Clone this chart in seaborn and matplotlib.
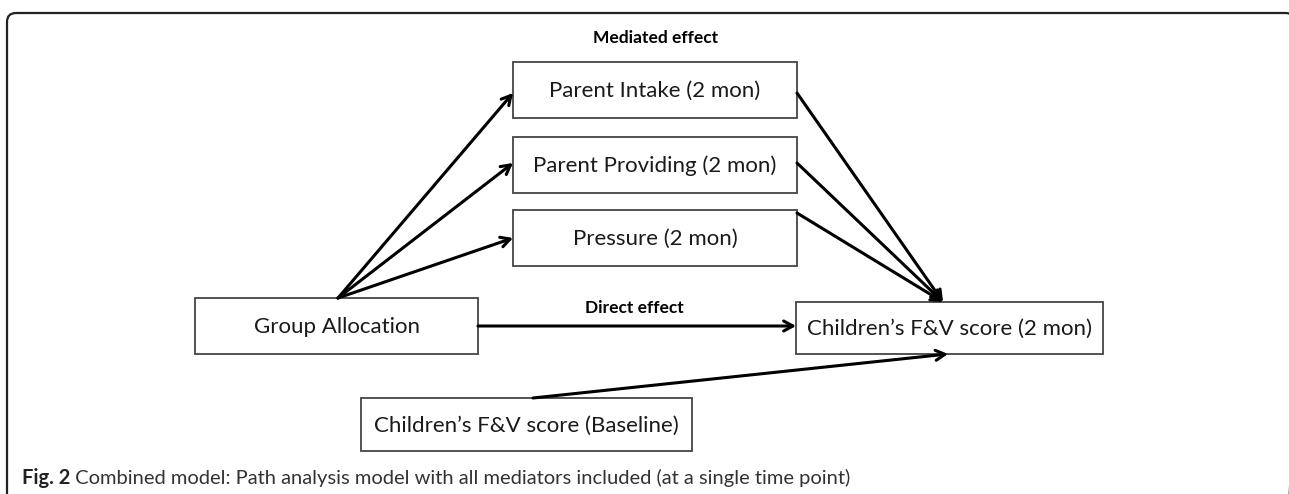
import matplotlib
matplotlib.use("Agg")
import matplotlib.pyplot as plt
from matplotlib.patches import Rectangle, FancyBboxPatch
import seaborn as sns

sns.set_theme(style="white")
plt.rcParams['font.family'] = ['Lato', 'DejaVu Sans']

# nodes of the path model
node_labels = ["Parent Intake (2 mon)", "Parent Providing (2 mon)", "Pressure (2 mon)",
               "Group Allocation", "Children’s F&V score (2 mon)",
               "Children’s F&V score (Baseline)"]
mediators = node_labels[:3]
predictor = "Group Allocation"
outcome = "Children’s F&V score (2 mon)"
baseline = "Children’s F&V score (Baseline)"

# path labels
path_titles = ["Mediated effect", "Direct effect"]
caption_bold = "Fig. 2"
caption_text = " Combined model: Path analysis model with all mediators included (at a single time point)"

# layout in pixel units (x0, y0, x1, y1)
boxes = {
    "Parent Intake (2 mon)": (513, 62, 797, 118),
    "Parent Providing (2 mon)": (513, 137, 797, 193),
    "Pressure (2 mon)": (513, 210, 797, 266),
    "Group Allocation": (195, 298, 478, 354),
    "Children’s F&V score (2 mon)": (796, 302, 1103, 354),
    "Children’s F&V score (Baseline)": (361, 398, 692, 451),
}
arrow_in = {"Parent Intake (2 mon)": 93, "Parent Providing (2 mon)": 163, "Pressure (2 mon)": 238}
arrow_out = {"Parent Intake (2 mon)": 93, "Parent Providing (2 mon)": 163, "Pressure (2 mon)": 213}
fan_origin = (338, 298)
merge_point = (943, 302)

fig = plt.figure(figsize=(12.89, 4.94), dpi=100)
ax = fig.add_axes([0, 0, 1, 1])
ax.set_xlim(0, 1289)
ax.set_ylim(494, 0)
ax.axis('off')

# frame of the figure panel (right and bottom edges run off the picture)
frame = FancyBboxPatch((7, 13), 1287.5, 520, boxstyle="round,pad=0,rounding_size=9",
                       fill=False, ec='#222222', lw=1.6, clip_on=True)
ax.add_patch(frame)

# boxes
for name in node_labels:
    x0, y0, x1, y1 = boxes[name]
    ax.add_patch(Rectangle((x0, y0), x1 - x0, y1 - y0, fill=False, ec='#444444', lw=1.3))
    ax.text((x0 + x1) / 2, (y0 + y1) / 2 + 1, name, ha='center', va='center',
            fontsize=16, color='#1a1a1a')

arrow = dict(arrowstyle='->,head_length=0.55,head_width=0.3', lw=2.2, color='black',
             shrinkA=0, shrinkB=0)

# a paths: group allocation -> mediators
for m in mediators:
    ax.annotate('', xy=(boxes[m][0], arrow_in[m]), xytext=fan_origin, arrowprops=arrow)

# b paths: mediators -> outcome
for m in mediators:
    ax.annotate('', xy=merge_point, xytext=(boxes[m][2], arrow_out[m]), arrowprops=arrow)

# direct effect
ga = boxes[predictor]
oc = boxes[outcome]
mid_y = 326
ax.annotate('', xy=(oc[0], mid_y), xytext=(ga[2], mid_y), arrowprops=arrow)

# baseline covariate
bl = boxes[baseline]
ax.annotate('', xy=(948, oc[3]), xytext=(533, bl[1]), arrowprops=arrow)

ax.text(656, 38, path_titles[0], ha='center', va='center', fontsize=12.5,
        fontweight='bold', color='black')
ax.text(634, 308, path_titles[1], ha='center', va='center', fontsize=12.5,
        fontweight='bold', color='black')

# caption
t = ax.text(22, 478, caption_bold, ha='left', va='center', fontsize=14.5,
            fontweight='bold', color='#222222')
fig.canvas.draw()
bb = t.get_window_extent()
x_end = ax.transData.inverted().transform((bb.x1, bb.y0))[0]
ax.text(x_end, 478, caption_text, ha='left', va='center', fontsize=14.5, color='#333333')

fig.savefig('out.png', dpi=100)
